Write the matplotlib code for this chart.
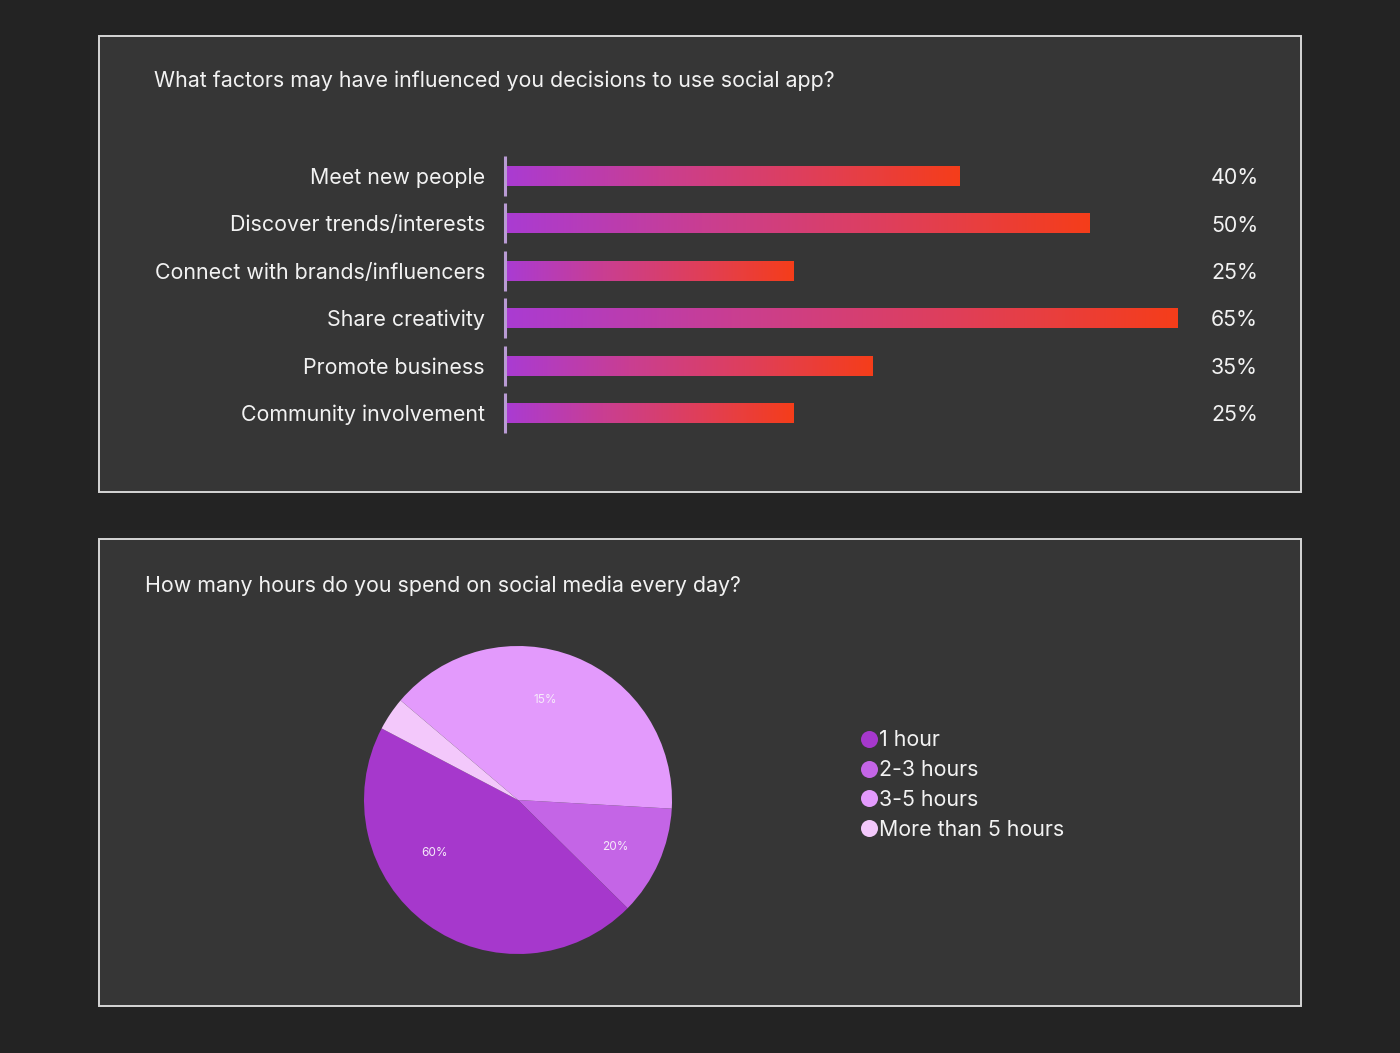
import numpy as np
import matplotlib
matplotlib.use("Agg")
import matplotlib.pyplot as plt
from matplotlib.patches import Rectangle
from matplotlib.colors import LinearSegmentedColormap

plt.rcParams['font.family'] = ['Inter', 'DejaVu Sans']

# ---------------- data ----------------
bar_title = "What factors may have influenced you decisions to use social app?"
categories = ["Meet new people", "Discover trends/interests", "Connect with brands/influencers",
              "Share creativity", "Promote business", "Community involvement"]
bar_lengths = [45.3, 58.3, 28.7, 67.1, 36.6, 28.7]          # drawn bar lengths
bar_labels = ["40%", "50%", "25%", "65%", "35%", "25%"]      # printed value labels

pie_title = "How many hours do you spend on social media every day?"
pie_categories = ["1 hour", "2-3 hours", "3-5 hours", "More than 5 hours"]
pie_shares = [45.3, 11.5, 39.7, 3.5]                          # drawn slice sizes
pie_labels = ["60%", "20%", "15%", ""]                        # printed slice labels

# ---------------- style ----------------
W, H = 1400, 1053
BG = "#232323"
PANEL = "#363636"
BORDER = "#d6d6d6"
TXT = "#f2f2f2"
FS = 15.4
pie_colors = ["#a638cc", "#c465e6", "#e39afc", "#f3c8fb"]
grad = LinearSegmentedColormap.from_list("g", ["#aa3bd2", "#c93e92", "#df3f5a", "#f53d1a"])
label_polar = [(212.6, 0.64), (334.2, 0.70), (74.9, 0.67), (146.0, 0.8)]


def rect(l, t, w, h):
    return [l / W, 1 - (t + h) / H, w / W, h / H]


fig = plt.figure(figsize=(14, 10.53), dpi=100, facecolor=BG)

canvas = fig.add_axes([0, 0, 1, 1])
canvas.set_xlim(0, W)
canvas.set_ylim(H, 0)
canvas.axis("off")
canvas.set_zorder(0)

canvas.add_patch(Rectangle((98.5, 35.5), 1202, 456, facecolor=PANEL, edgecolor=BORDER, lw=1.4))
canvas.add_patch(Rectangle((98.5, 538.5), 1202, 467, facecolor=PANEL, edgecolor=BORDER, lw=1.4))

canvas.text(154, 81, bar_title, color=TXT, fontsize=FS, va="center", ha="left")
canvas.text(145, 586, pie_title, color=TXT, fontsize=FS, va="center", ha="left")

# ---------------- bar chart ----------------
ax = fig.add_axes(rect(507, 152.25, 793, 284.5))
ax.set_zorder(1)
ax.patch.set_alpha(0)
grad_img = np.linspace(0, 1, 256).reshape(1, -1)
bh = 0.42
for i, v in enumerate(bar_lengths):
    ax.imshow(grad_img, cmap=grad, extent=(0, v, i + bh / 2, i - bh / 2),
              aspect="auto", interpolation="bicubic", zorder=2)
    ax.vlines(-0.2, i - 0.42, i + 0.42, color="#b99bd4", lw=2.2, clip_on=False, zorder=3)
    ax.text(70.4, i + 0.045, bar_labels[i], color=TXT, fontsize=FS, va="center", ha="left")
ax.set_xlim(0, 79.3)
ax.set_ylim(len(categories) - 0.5, -0.5)
ax.set_yticks(range(len(categories)))
ax.set_yticklabels(categories, color=TXT, fontsize=FS)
ax.tick_params(axis="y", length=0, pad=15.8)
ax.set_xticks([])
for s in ax.spines.values():
    s.set_visible(False)

# ---------------- pie chart ----------------
pax = fig.add_axes(rect(364, 646, 308, 308))
pax.set_zorder(1)
wedges, _ = pax.pie(pie_shares, colors=pie_colors, startangle=152.3, counterclock=True,
                    radius=1, wedgeprops=dict(linewidth=0))
pax.set_xlim(-1, 1)
pax.set_ylim(-1, 1)
pax.set_aspect("equal")
for lab, (ang, r) in zip(pie_labels, label_polar):
    if lab:
        a = np.deg2rad(ang)
        pax.text(r * np.cos(a), r * np.sin(a), lab, color="#f6eafa", fontsize=8.5,
                 ha="center", va="center")

# ---------------- legend ----------------
ly0, ldy = 739, 29.67
for i, (name, c) in enumerate(zip(pie_categories, pie_colors)):
    y = ly0 + i * ldy
    canvas.scatter([869], [y], s=150, color=c, linewidths=0, zorder=3)
    canvas.text(879, y + 1.5, name, color=TXT, fontsize=FS, va="center", ha="left")

fig.savefig("out.png", dpi=100, facecolor=BG)
